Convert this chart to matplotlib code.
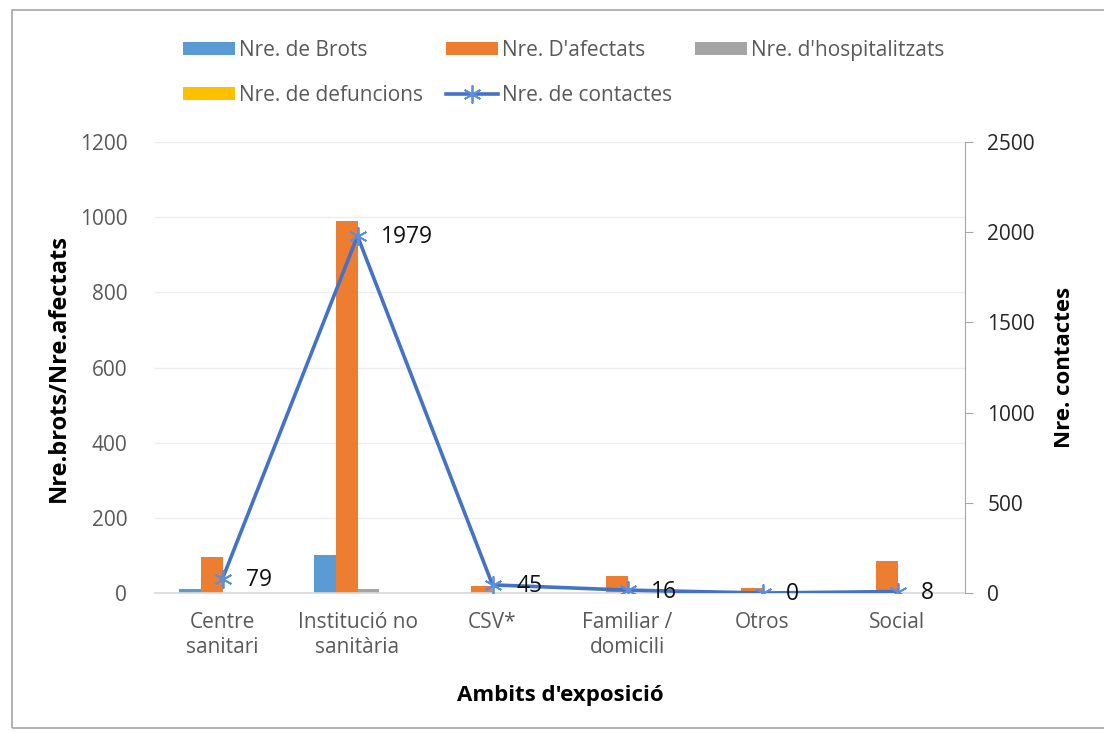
import numpy as np
import matplotlib.pyplot as plt
from matplotlib.patches import Rectangle

plt.rcParams['font.family'] = ['Open Sans', 'DejaVu Sans']

categories = ['Centre\nsanitari', 'Institució no\nsanitària', 'CSV*', 'Familiar /\ndomicili', 'Otros', 'Social']
brots = [11, 100, 0, 0, 0, 0]
afectats = [97, 990, 18, 46, 13, 86]
hospitalitzats = [0, 11, 0, 0, 0, 0]
defuncions = [0, 0, 0, 0, 0, 0]
contactes = [79, 1979, 45, 16, 0, 8]

fig = plt.figure(figsize=(11.04, 7.33), dpi=100)
ax = fig.add_axes([155 / 1104, 1 - 593 / 733, 810 / 1104, 451 / 733])
ax2 = ax.twinx()

x = np.arange(len(categories))
w = 0.16
series = [(brots, 'Nre. de Brots', '#5B9BD5'),
          (afectats, "Nre. D'afectats", '#ED7D31'),
          (hospitalitzats, "Nre. d'hospitalitzats", '#A5A5A5'),
          (defuncions, 'Nre. de defuncions', '#FFC000')]
handles = []
for i, (vals, lab, col) in enumerate(series):
    b = ax.bar(x + (i - 2) * w, vals, w, color=col, label=lab, align='edge', zorder=2)
    handles.append(b)

ln, = ax2.plot(x, contactes, color='#4472C4', lw=2.6, marker=(6, 2, 0),
               markersize=13, markeredgecolor='#5B8FDD', markeredgewidth=1.3,
               label='Nre. de contactes')
handles.append(ln)
for xi, v in zip(x, contactes):
    ax2.annotate(str(v), (xi, v), xytext=(17, -1), textcoords='offset points',
                 va='center', ha='left', fontsize=16.5, color='#111111')

ax.set_xlim(-0.5, len(categories) - 0.5)
ax.set_ylim(0, 1200)
ax.set_yticks(range(0, 1201, 200))
ax.grid(axis='y', color='#EDEDED', lw=1.0, zorder=0)
ax.set_axisbelow(True)
ax2.set_ylim(0, 2500)
ax2.set_yticks(range(0, 2501, 500))
ax.set_xticks(x)
ax.set_xticklabels(categories)

for s in ['top', 'left', 'right']:
    ax.spines[s].set_visible(False)
for s in ['top', 'left', 'bottom']:
    ax2.spines[s].set_visible(False)
ax.spines['bottom'].set_color('#D9D9D9')
ax.spines['bottom'].set_linewidth(1.2)
ax2.spines['right'].set_color('#A6A6A6')
ax.tick_params(axis='y', length=0, labelsize=15, labelcolor='#595959', pad=20)
ax.tick_params(axis='x', length=0, labelsize=15, labelcolor='#595959', pad=14)
ax2.tick_params(axis='y', length=6, color='#A6A6A6', labelsize=15,
                labelcolor='#262626', pad=10)

ax.set_ylabel('Nre.brots/Nre.afectats', fontsize=17, fontweight='bold', labelpad=6)
ax2.set_ylabel('Nre. contactes', fontsize=16, fontweight='bold', labelpad=14)
ax.set_xlabel("Ambits d'exposició", fontsize=16, fontweight='bold', labelpad=20)

order = [handles[0], handles[3], handles[1], handles[4], handles[2]]
fig.legend(handles=order, loc='upper left', bbox_to_anchor=(164 / 1104, 1 - 21 / 733),
           ncol=3, frameon=False, fontsize=15, handlelength=2.5, handleheight=0.62,
           columnspacing=1.1, handletextpad=0.2, labelspacing=1.15,
           labelcolor='#595959')

fig.patches.append(Rectangle((12 / 1104, 1 - 728 / 733), 1.1, 718 / 733,
                             transform=fig.transFigure, fill=False,
                             edgecolor='#A6A6A6', lw=1.2))

fig.savefig('out.png', dpi=100)
